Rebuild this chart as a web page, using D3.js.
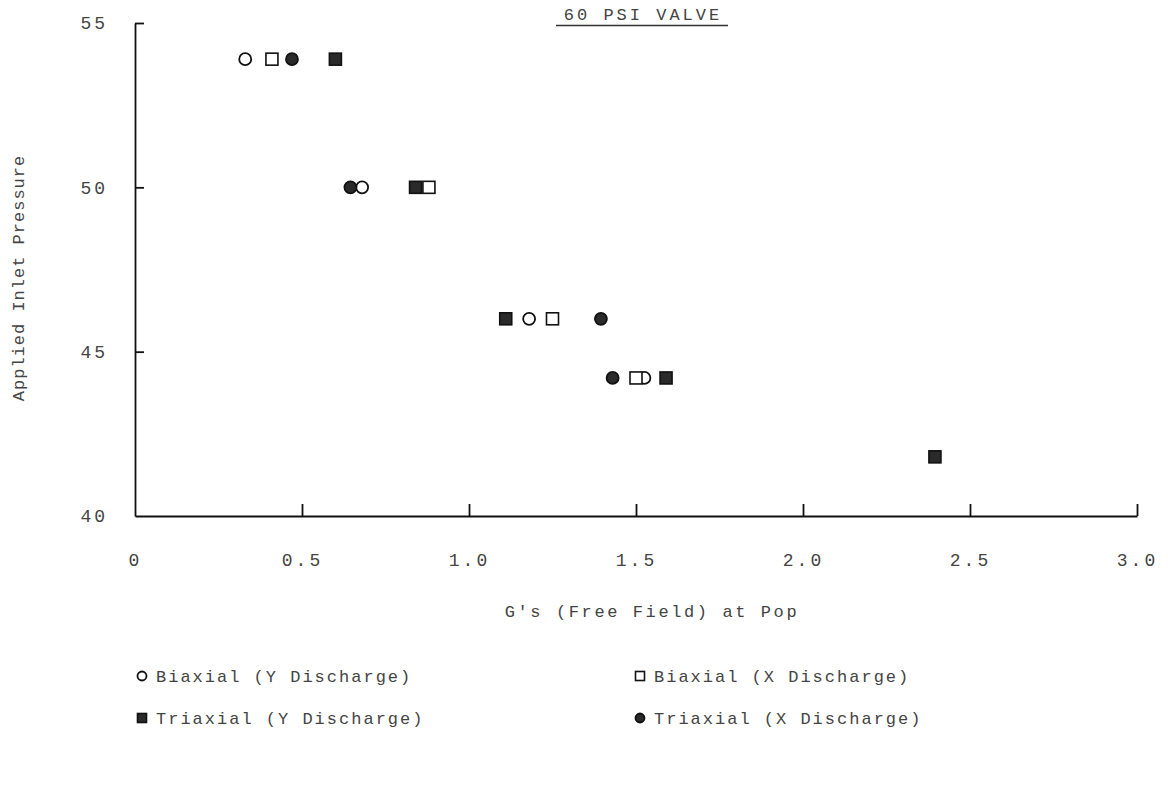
<!DOCTYPE html>
<html>
<head>
<meta charset="utf-8">
<script src="https://cdn.jsdelivr.net/npm/d3@7"></script>
<style>
  body { margin: 0; background: #fff; }
  text { font-family: "Liberation Mono", "DejaVu Sans Mono", monospace; fill: #444; }
</style>
</head>
<body>
<script>
var width = 1168,
    height = 791;

// plot frame (pixels)
var x0 = 135, x1 = 1137,
    y0 = 516, y1 = 23;

// data: [G's, pressure]
var biaxialY   = [[0.33, 53.9], [0.68, 50.0], [1.18, 46.0], [1.525, 44.2]];
var biaxialX   = [[0.41, 53.9], [0.88, 50.0], [1.25, 46.0], [1.50, 44.2]];
var triaxialY  = [[0.60, 53.9], [0.84, 50.0], [1.11, 46.0], [1.59, 44.2], [2.395, 41.8]];
var triaxialX  = [[0.47, 53.9], [0.645, 50.0], [1.395, 46.0], [1.43, 44.2]];

var xTicks = [0, 0.5, 1.0, 1.5, 2.0, 2.5, 3.0],
    xTickLabels = ["0", "0.5", "1.0", "1.5", "2.0", "2.5", "3.0"],
    yTicks = [40, 45, 50, 55];

var series = [
  {name: "Biaxial (Y Discharge)",  shape: "circle", filled: false, data: biaxialY},
  {name: "Biaxial (X Discharge)",  shape: "square", filled: false, data: biaxialX},
  {name: "Triaxial (Y Discharge)", shape: "square", filled: true,  data: triaxialY},
  {name: "Triaxial (X Discharge)", shape: "circle", filled: true,  data: triaxialX}
];

var svg = d3.select("body").append("svg")
    .attr("width", width)
    .attr("height", height);

var x = d3.scaleLinear().domain([0, 3]).range([x0, x1]),
    y = d3.scaleLinear().domain([40, 55]).range([y0, y1]);

//axes
var xAxis = d3.axisBottom(x)
    .tickValues(xTicks)
    .tickFormat(function(d, i) { return xTickLabels[i]; })
    .tickSize(-12)
    .tickSizeOuter(0)
    .tickPadding(37);

var yAxis = d3.axisLeft(y)
    .tickValues(yTicks)
    .tickFormat(d3.format("d"))
    .tickSize(-9)
    .tickSizeOuter(0)
    .tickPadding(27);

var gx = svg.append("g").attr("transform", "translate(0," + y0 + ")").call(xAxis);
var gy = svg.append("g").attr("transform", "translate(" + x0 + ",0)").call(yAxis);

[gx, gy].forEach(function(g) {
  g.select(".domain").attr("stroke", "#111").attr("stroke-width", 1.8);
  g.selectAll(".tick line").attr("stroke", "#111").attr("stroke-width", 1.8);
  g.selectAll(".tick text")
    .attr("font-family", "Liberation Mono, monospace")
    .attr("font-size", 18)
    .attr("letter-spacing", 3)
    .attr("fill", "#444");
});
gx.selectAll(".tick").filter(function(d) { return d === 0; }).select("line").remove();
gy.selectAll(".tick").filter(function(d) { return d === 40; }).select("line").remove();

//titles
svg.append("text")
    .attr("x", 643).attr("y", 20)
    .attr("text-anchor", "middle")
    .attr("font-size", 17)
    .attr("letter-spacing", 3)
    .text("60 PSI VALVE");
svg.append("line")
    .attr("x1", 556).attr("x2", 728)
    .attr("y1", 25.5).attr("y2", 25.5)
    .attr("stroke", "#333").attr("stroke-width", 1.4);

svg.append("text")
    .attr("x", 652).attr("y", 617)
    .attr("text-anchor", "middle")
    .attr("font-size", 17)
    .attr("letter-spacing", 2.6)
    .text("G's (Free Field) at Pop");

svg.append("text")
    .attr("transform", "translate(24,278) rotate(-90)")
    .attr("text-anchor", "middle")
    .attr("font-size", 17)
    .attr("letter-spacing", 1)
    .text("Applied Inlet Pressure");

//markers
function drawMarker(g, s, cx, cy, size) {
  var fill = s.filled ? "#2a2a2a" : "#fff";
  if (s.shape === "circle") {
    g.append("circle")
      .attr("cx", cx).attr("cy", cy).attr("r", size / 2)
      .attr("fill", fill).attr("stroke", "#111").attr("stroke-width", 1.8);
  } else {
    g.append("rect")
      .attr("x", cx - size / 2).attr("y", cy - size / 2)
      .attr("width", size).attr("height", size)
      .attr("fill", fill).attr("stroke", "#111").attr("stroke-width", 1.6);
  }
}

var gPts = svg.append("g").attr("class", "points");
series.forEach(function(s) {
  s.data.forEach(function(d) {
    drawMarker(gPts, s, x(d[0]), y(d[1]), 12);
  });
});

//legend
var legendPos = [[142, 676], [640, 676], [142, 718], [640, 718]];
var gLeg = svg.append("g").attr("class", "legend");
series.forEach(function(s, i) {
  var p = legendPos[i];
  drawMarker(gLeg, s, p[0], p[1], 9);
  gLeg.append("text")
    .attr("x", p[0] + 14).attr("y", p[1] + 6)
    .attr("font-size", 17)
    .attr("letter-spacing", 2)
    .text(s.name);
});
</script>
</body>
</html>
